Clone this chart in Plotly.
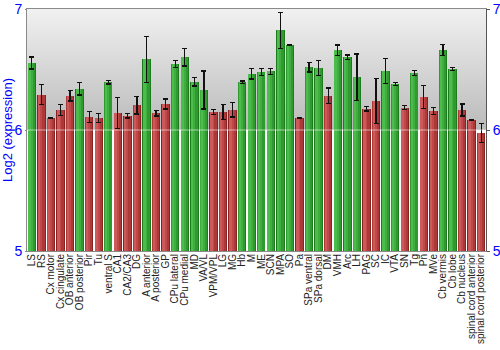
import plotly.graph_objects as go

# Brain regions along the x axis
regions = [
    "LS", "RS", "Cx motor", "Cx cingulate", "OB anterior", "OB posterior", "Pir", "Tu",
    "ventral S", "CA1", "CA2/CA3", "DG", "A anterior", "A posterior", "GP", "CPu lateral",
    "CPu medial", "MD", "VA/VL", "VPM/VPL", "LG", "MG", "Hb", "M", "ME", "SCN", "MPA", "SO",
    "Pa", "SPa ventral", "SPa dorsal", "DM", "VMH", "Arc", "LH", "PAG", "SC", "IC", "VTA",
    "SN", "Tg", "Pn", "MVe", "Cb vermis", "Cb lobe", "Cb nucleus", "spinal cord anterior",
    "spinal cord posterior",
]

# Mean log2 expression per region
expression = [
    6.553, 6.293, 6.102, 6.163, 6.284, 6.340, 6.108, 6.099,
    6.395, 6.143, 6.118, 6.205, 6.583, 6.138, 6.215, 6.547,
    6.602, 6.398, 6.331, 6.149, 6.149, 6.168, 6.395, 6.464, 6.481, 6.486, 6.823, 6.704,
    6.099, 6.519, 6.511, 6.282, 6.660, 6.602, 6.437, 6.177, 6.240, 6.489, 6.379,
    6.185, 6.470, 6.271, 6.157, 6.663, 6.505, 6.166, 6.080,
    5.975,
]

# Standard error per region
std_err = [
    0.050, 0.084, 0.003, 0.045, 0.045, 0.050, 0.044, 0.037,
    0.014, 0.128, 0.020, 0.073, 0.190, 0.023, 0.041, 0.028,
    0.073, 0.035, 0.157, 0.020, 0.062, 0.060, 0.010, 0.043, 0.029, 0.025, 0.149, 0.005,
    0.004, 0.040, 0.062, 0.065, 0.043, 0.017, 0.192, 0.020, 0.188, 0.102, 0.014,
    0.017, 0.021, 0.095, 0.028, 0.046, 0.014, 0.050, 0.003,
    0.081,
]

# 1 = high-expression group (green), 0 = low group (red)
high_group = [
    1, 0, 0, 0, 0, 1, 0, 0,
    1, 0, 0, 0, 1, 0, 0, 1,
    1, 1, 1, 0, 0, 0, 1, 1, 1, 1, 1, 1,
    0, 1, 1, 0, 1, 1, 1, 0, 0, 1, 1,
    0, 1, 0, 0, 1, 1, 0, 0,
    0,
]

y_ticks = [5, 6, 7]

idx = list(range(len(regions)))
n = len(regions)

# shading layers for a horizontal gradient look on each bar: (width, offset, green, red)
layers = [
    (0.88, -0.44, "#1d7a1d", "#8a2222"),
    (0.74, -0.40, "#2f9a2f", "#ac3838"),
    (0.46, -0.36, "#3fae3f", "#c04848"),
    (0.20, -0.30, "#4cbc4c", "#cc5a5a"),
]

fig = go.Figure()

# plot-area background on the base x/y subplot: gray gradient above 6, white below
fig.add_trace(go.Scatter(
    x=[-0.5, n - 0.5, n - 0.5, -0.5, -0.5],
    y=[6, 6, 7, 7, 6],
    mode="lines", line=dict(width=0),
    fill="toself",
    fillgradient=dict(type="vertical", start=6, stop=7,
                      colorscale=[[0, "#bababa"], [1, "#f1f1f1"]]),
    hoverinfo="skip", showlegend=False,
    xaxis="x", yaxis="y",
))

# bars live on the overlaid x2/y2 pair so they are drawn over the background
for w, off, g, r in layers:
    fig.add_trace(go.Bar(
        x=idx, y=expression, base=0,
        width=w, offset=off,
        marker=dict(color=[g if h else r for h in high_group], line=dict(width=0)),
        hoverinfo="skip", showlegend=False,
        xaxis="x2", yaxis="y2",
    ))

# white guide line at 6, drawn over the bars
fig.add_trace(go.Scatter(
    x=[-0.5, n - 0.5], y=[6, 6], mode="lines",
    line=dict(color="rgba(255,255,255,0.55)", width=1),
    hoverinfo="skip", showlegend=False,
    xaxis="x2", yaxis="y2",
))

# error bars on a transparent full-width bar so they sit on top of the shading
fig.add_trace(go.Bar(
    x=idx, y=expression, width=0.88, offset=-0.44,
    marker=dict(color="rgba(0,0,0,0)", line=dict(width=0)),
    error_y=dict(type="data", array=std_err, visible=True,
                 color="#111111", thickness=1.3, width=2.5),
    showlegend=False,
    xaxis="x2", yaxis="y2",
))

tick_font = dict(family="Liberation Sans, Arial, sans-serif", size=14, color="#0000ff")

fig.update_layout(
    width=500, height=350,
    margin=dict(l=27, r=14, t=9, b=99),
    paper_bgcolor="white", plot_bgcolor="white",
    barmode="overlay", bargap=0,
    xaxis=dict(
        range=[-0.5, n - 0.5], showticklabels=False, ticks="",
        showgrid=False, zeroline=False,
        showline=True, linecolor="#8a8a8a", linewidth=1, mirror=True,
        automargin=False,
    ),
    xaxis2=dict(
        range=[-0.5, n - 0.5], overlaying="x", side="bottom",
        tickmode="array", tickvals=idx, ticktext=regions,
        tickangle=-90, ticks="", showgrid=False, zeroline=False, showline=False,
        tickfont=dict(family="Liberation Sans, Arial, sans-serif", size=10, color="#222222"),
        automargin=False,
    ),
    yaxis=dict(
        range=[5, 7], tickvals=y_ticks, ticks="outside", ticklen=1, tickcolor="#8a8a8a",
        tickfont=tick_font, showgrid=False, zeroline=False,
        showline=True, linecolor="#8a8a8a", linewidth=1,
        title=dict(text="Log2 (expression)", standoff=8,
                   font=dict(family="Liberation Sans, Arial, sans-serif", size=13, color="#0000ff")),
        automargin=False,
    ),
    yaxis2=dict(
        range=[5, 7], tickvals=y_ticks, overlaying="y", side="right",
        ticks="outside", ticklen=3, tickcolor="#555555",
        tickfont=tick_font, showgrid=False, zeroline=False,
        showline=True, linecolor="#555555", linewidth=1,
        automargin=False,
    ),
)

fig.write_html("out.html")
